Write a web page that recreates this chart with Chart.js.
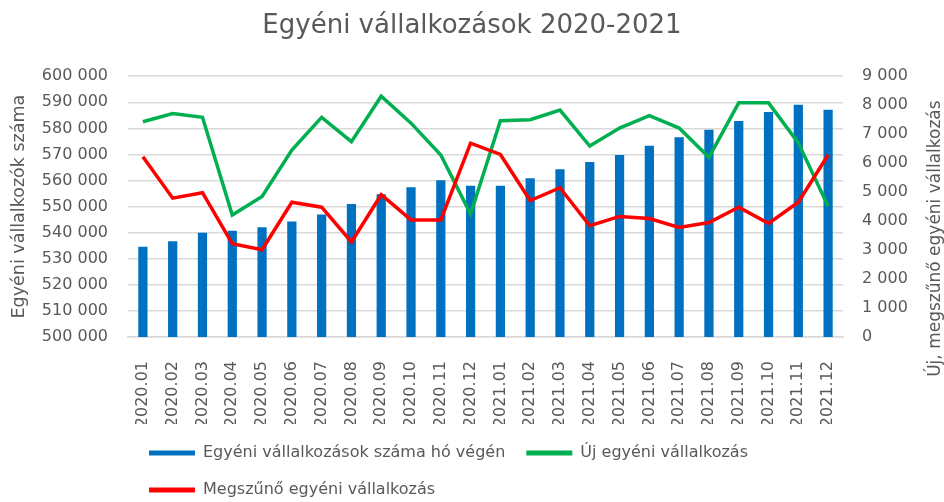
<!DOCTYPE html>
<html>
<head>
<meta charset="utf-8">
<script src="https://cdn.jsdelivr.net/npm/chart.js@4"></script>
<style>
  html, body { margin: 0; padding: 0; background: #fff; }
  #wrap { width: 944px; height: 502px; }
</style>
</head>
<body>
<div id="wrap"><canvas id="myChart" width="944" height="502"></canvas></div>
<script>
// months
let labels = [
  '2020.01', '2020.02', '2020.03', '2020.04', '2020.05', '2020.06',
  '2020.07', '2020.08', '2020.09', '2020.10', '2020.11', '2020.12',
  '2021.01', '2021.02', '2021.03', '2021.04', '2021.05', '2021.06',
  '2021.07', '2021.08', '2021.09', '2021.10', '2021.11', '2021.12'
];

// egyéni vállalkozások száma hó végén (bal tengely)
let vallalkozasok = [
  534600, 536700, 540000, 540700, 542100, 544300,
  547000, 551000, 554700, 557400, 560100, 558000,
  558000, 560900, 564300, 567100, 569800, 573300,
  576600, 579500, 582800, 586300, 589100, 587100
];

// új egyéni vállalkozás (jobb tengely)
let ujak = [
  7430, 7710, 7580, 4210, 4850, 6450,
  7580, 6740, 8310, 7380, 6280, 4240,
  7460, 7500, 7830, 6590, 7210, 7640,
  7210, 6200, 8080, 8080, 6700, 4510
];

// megszűnő egyéni vállalkozás (jobb tengely)
let megszunok = [
  6220, 4790, 4980, 3220, 3010, 4650,
  4480, 3280, 4910, 4040, 4040, 6690,
  6300, 4710, 5150, 3840, 4160, 4090,
  3780, 3950, 4480, 3920, 4650, 6280
];

let leftTitle = 'Egyéni vállalkozók száma';
let rightTitle = 'Új, megszűnő egyéni vállalkozás';

let grey = '#595959';
let gridGrey = '#D9D9D9';
let font = 'DejaVu Sans';

function spaced(v) {
  return String(v).replace(/\B(?=(\d{3})+(?!\d))/g, ' ');
}

// right axis title reads bottom-to-top like the left one
let rightTitlePlugin = {
  id: 'rightTitle',
  afterDraw(chart) {
    let ctx = chart.ctx;
    let area = chart.chartArea;
    ctx.save();
    ctx.translate(936, (area.top + area.bottom) / 2 + 32);
    ctx.rotate(-Math.PI / 2);
    ctx.fillStyle = grey;
    ctx.font = '17px "' + font + '"';
    ctx.textAlign = 'center';
    ctx.textBaseline = 'middle';
    ctx.fillText(rightTitle, 0, 0);
    ctx.restore();
  }
};

Chart.defaults.font.family = font;
Chart.defaults.color = grey;

let myChart = new Chart(document.getElementById('myChart'), {
  type: 'bar',
  data: {
    labels: labels,
    datasets: [{
      type: 'bar',
      label: 'Egyéni vállalkozások száma hó végén',
      data: vallalkozasok,
      backgroundColor: '#0070C0',
      borderWidth: 0,
      barPercentage: 0.31,
      categoryPercentage: 1,
      yAxisID: 'y',
      order: 3
    }, {
      type: 'line',
      label: 'Új egyéni vállalkozás',
      data: ujak,
      borderColor: '#00B050',
      backgroundColor: '#00B050',
      borderWidth: 3.5,
      pointRadius: 0,
      tension: 0,
      yAxisID: 'y1',
      order: 2
    }, {
      type: 'line',
      label: 'Megszűnő egyéni vállalkozás',
      data: megszunok,
      borderColor: '#FF0000',
      backgroundColor: '#FF0000',
      borderWidth: 3.5,
      pointRadius: 0,
      tension: 0,
      yAxisID: 'y1',
      order: 1
    }]
  },
  options: {
    responsive: false,
    animation: false,
    layout: { padding: { left: 0, right: 0, top: 0, bottom: -6 } },
    plugins: {
      tooltip: { enabled: false },
      title: {
        display: true,
        text: 'Egyéni vállalkozások 2020-2021',
        color: grey,
        font: { size: 26, weight: 'normal' },
        padding: { top: 11, bottom: 34 }
      },
      legend: {
        position: 'bottom',
        align: 'start',
        fullSize: false,
        labels: {
          color: grey,
          font: { size: 16 },
          boxWidth: 46,
          boxHeight: 5,
          padding: 21,
          sort: (a, b) => a.datasetIndex - b.datasetIndex,
          generateLabels: function(chart) {
            let items = Chart.defaults.plugins.legend.labels.generateLabels(chart);
            items.forEach(function(it) { it.lineWidth = 0; });
            return items;
          }
        }
      }
    },
    scales: {
      x: {
        grid: { display: false },
        border: { display: true, color: gridGrey, width: 1.5 },
        ticks: {
          minRotation: 90,
          maxRotation: 90,
          padding: 16,
          font: { size: 16 },
          color: grey
        },
        afterFit: function(scale) { scale.height = 87; }
      },
      y: {
        position: 'left',
        min: 500000,
        max: 600000,
        ticks: {
          stepSize: 10000,
          padding: 20,
          font: { size: 16 },
          color: grey,
          callback: function(v) { return spaced(v); }
        },
        grid: { color: gridGrey, lineWidth: 1.5, drawTicks: false },
        border: { display: false },
        title: {
          display: true,
          text: leftTitle,
          color: grey,
          font: { size: 17.5 },
          padding: { top: 9, bottom: 0 }
        },
        afterFit: function(scale) { scale.width = 128; }
      },
      y1: {
        position: 'right',
        min: 0,
        max: 9000,
        ticks: {
          stepSize: 1000,
          padding: 19,
          font: { size: 16 },
          color: grey,
          callback: function(v) { return spaced(v); }
        },
        grid: { display: false, drawTicks: false },
        border: { display: false },
        afterFit: function(scale) { scale.width = 101; }
      }
    }
  },
  plugins: [rightTitlePlugin]
});
</script>
</body>
</html>
